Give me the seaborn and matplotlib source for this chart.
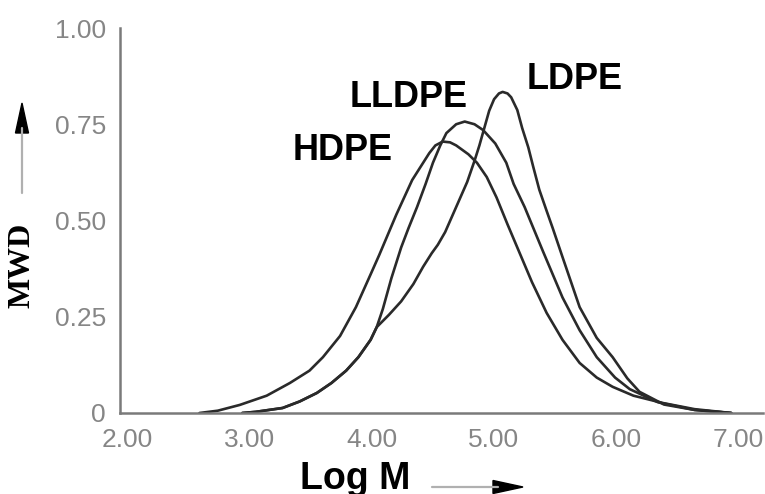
import matplotlib
matplotlib.use("Agg")
import matplotlib.pyplot as plt
from matplotlib.patches import Polygon
from matplotlib.lines import Line2D
import matplotlib.transforms as mtransforms
import seaborn as sns
import pandas as pd

# ---- data ----
logm_hdpe = [2.65, 2.80, 2.98, 3.20, 3.39, 3.55, 3.66, 3.80, 3.93, 4.05, 4.12, 4.18, 4.26,
             4.39, 4.53, 4.58, 4.64, 4.70, 4.75, 4.85, 4.92, 5.00, 5.08, 5.17, 5.25, 5.37,
             5.49, 5.62, 5.76, 5.90, 6.03, 6.20, 6.44, 6.70, 7.00]
mwd_hdpe = [0.0, 0.006, 0.021, 0.045, 0.078, 0.11, 0.145, 0.20, 0.275, 0.36, 0.41, 0.455, 0.515,
            0.605, 0.675, 0.695, 0.705, 0.703, 0.695, 0.672, 0.65, 0.613, 0.56, 0.49, 0.43, 0.34,
            0.26, 0.19, 0.13, 0.092, 0.068, 0.045, 0.026, 0.01, 0.0]

logm_lldpe = [3.00, 3.11, 3.33, 3.47, 3.61, 3.73, 3.85, 3.95, 4.05, 4.10, 4.15, 4.22, 4.30,
              4.36, 4.43, 4.50, 4.56, 4.62, 4.67, 4.75, 4.82, 4.90, 4.97, 5.07, 5.16, 5.22,
              5.31, 5.46, 5.54, 5.62, 5.76, 5.90, 6.05, 6.17, 6.40, 6.70, 7.00]
mwd_lldpe = [0.0, 0.003, 0.013, 0.03, 0.052, 0.078, 0.11, 0.145, 0.19, 0.223, 0.27, 0.35, 0.43,
             0.48, 0.535, 0.595, 0.65, 0.695, 0.727, 0.750, 0.757, 0.750, 0.735, 0.70, 0.65, 0.595,
             0.535, 0.42, 0.36, 0.30, 0.215, 0.145, 0.092, 0.062, 0.028, 0.008, 0.0]

logm_ldpe = [3.00, 3.11, 3.33, 3.47, 3.61, 3.73, 3.85, 3.95, 4.05, 4.10, 4.20, 4.30, 4.40,
             4.48, 4.55, 4.60, 4.66, 4.75, 4.84, 4.90, 4.94, 4.98, 5.02, 5.06, 5.10, 5.13,
             5.17, 5.20, 5.25, 5.29, 5.34, 5.38, 5.43, 5.49, 5.54, 5.62, 5.76, 5.90, 6.03,
             6.15, 6.25, 6.45, 6.70, 7.00]
mwd_ldpe = [0.0, 0.003, 0.013, 0.03, 0.052, 0.078, 0.11, 0.145, 0.19, 0.223, 0.255, 0.29, 0.335,
            0.38, 0.415, 0.437, 0.47, 0.535, 0.60, 0.655, 0.695, 0.74, 0.785, 0.815, 0.83, 0.834,
            0.83, 0.82, 0.787, 0.74, 0.69, 0.64, 0.58, 0.525, 0.48, 0.405, 0.275, 0.195, 0.145,
            0.09, 0.055, 0.022, 0.008, 0.0]

x_ticks = [2, 3, 4, 5, 6, 7]
x_ticklabels = ["2.00", "3.00", "4.00", "5.00", "6.00", "7.00"]
y_ticks = [0, 0.25, 0.5, 0.75, 1.0]
y_ticklabels = ["0", "0.25", "0.50", "0.75", "1.00"]
curve_labels = ["HDPE", "LLDPE", "LDPE"]

# ---- build long-form table ----
frames = []
for name, xs, ys in [("HDPE", logm_hdpe, mwd_hdpe), ("LLDPE", logm_lldpe, mwd_lldpe),
                     ("LDPE", logm_ldpe, mwd_ldpe)]:
    frames.append(pd.DataFrame({"logM": xs, "MWD": ys, "polymer": name}))
df = pd.concat(frames, ignore_index=True)

sns.set_style("white")
W, H = 765, 494
fig = plt.figure(figsize=(W / 100, H / 100), dpi=100)
ax = fig.add_axes([120 / W, 1 - 413 / H, (763 - 120) / W, (413 - 28) / H])

line_col = "#2a2a2a"
sns.lineplot(data=df, x="logM", y="MWD", hue="polymer",
             palette={"HDPE": line_col, "LLDPE": line_col, "LDPE": line_col},
             sort=False, estimator=None, legend=False, linewidth=1.9, ax=ax)

ax.set_xlim(2, 7.26)
ax.set_ylim(0, 1.0)
ax.set_xlabel("")
ax.set_ylabel("")

spine_col = "#7a7a7a"
for s in ["top", "right"]:
    ax.spines[s].set_visible(False)
for s in ["left", "bottom"]:
    ax.spines[s].set_color(spine_col)
    ax.spines[s].set_linewidth(1.8)

tick_font = dict(family=["Liberation Sans", "DejaVu Sans"], size=19)
ax.set_xticks(x_ticks)
ax.set_xticklabels(x_ticklabels, color="#868686", **tick_font)
ax.set_yticks(y_ticks)
ax.set_yticklabels(y_ticklabels, color="#868686", **tick_font)
ax.tick_params(axis="both", direction="in", length=8, width=1.6, color=spine_col)
ax.tick_params(axis="x", pad=10.5)
ax.tick_params(axis="y", pad=10)
off = mtransforms.ScaledTranslation(7 / 100, 0, fig.dpi_scale_trans)
for lab in ax.get_xticklabels():
    lab.set_transform(lab.get_transform() + off)

# curve labels
lab_font = dict(family=["Liberation Sans", "DejaVu Sans"], weight="bold", size=26, color="black")
for txt, (px, py) in zip(curve_labels, [(293, 160), (350, 107), (527, 89)]):
    fig.text(px / W, 1 - py / H, txt, ha="left", va="baseline", **lab_font)

# axis titles
fig.text(300 / W, 1 - 489 / H, "Log M", ha="left", va="baseline",
         family=["Liberation Sans", "DejaVu Sans"], weight="bold", size=27, color="black")
fig.text(22 / W, 1 - 265 / H, "MWD", rotation=90, ha="center", va="center",
         family=["Liberation Serif", "DejaVu Serif"], weight="bold", size=23, color="black")

# arrows (figure pixels -> fractions)
def fx(p):
    return p / W

def fy(p):
    return 1 - p / H

# up arrow
fig.add_artist(Line2D([fx(22), fx(22)], [fy(193), fy(128)], color="#b0b0b0", lw=1.6))
fig.add_artist(Polygon([[fx(22), fy(103)], [fx(15.5), fy(133)], [fx(28.5), fy(133)]],
                       closed=True, color="black", transform=fig.transFigure))
# right arrow
fig.add_artist(Line2D([fx(432), fx(498)], [fy(487), fy(487)], color="#b0b0b0", lw=1.6))
fig.add_artist(Polygon([[fx(523), fy(487)], [fx(493), fy(480.5)], [fx(493), fy(493.5)]],
                       closed=True, color="black", transform=fig.transFigure))

fig.savefig("out.png", dpi=100)
